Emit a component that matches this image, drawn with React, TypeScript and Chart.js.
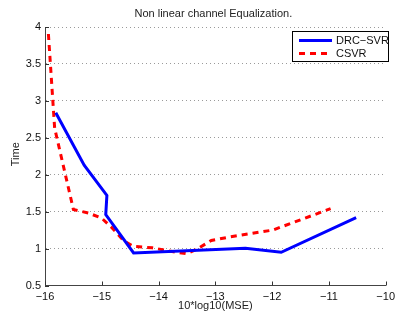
import React, { useEffect, useRef } from "react";
import { Chart, registerables } from "chart.js";

Chart.register(...registerables);

const titleText = "Non linear channel Equalization.";
const xLabel = "10*log10(MSE)";
const yLabel = "Time";
const seriesNames = ["DRC\u2212SVR", "CSVR"];
const seriesColors = ["#0000ff", "#ff0000"];

const drcX = [-15.81, -15.31, -14.91, -14.93, -14.44, -12.47, -11.84, -10.52];
const drcY = [2.84, 2.13, 1.72, 1.46, 0.94, 1.005, 0.95, 1.42];

const csvrX = [-15.94, -15.83, -15.5, -15.23, -15.0, -14.83, -14.62, -14.45, -14.11, -13.76, -13.5, -13.33, -13.07, -12.73, -11.99, -10.97];
const csvrY = [3.905, 2.63, 1.53, 1.48, 1.41, 1.29, 1.11, 1.03, 1.01, 0.96, 0.93, 0.99, 1.11, 1.16, 1.25, 1.54];

const xTicks = [-16, -15, -14, -13, -12, -11, -10];
const yTicks = [0.5, 1, 1.5, 2, 2.5, 3, 3.5, 4];

const FONT = "'Liberation Sans', Arial, Helvetica, sans-serif";

const decorPlugin = {
  id: "decor",
  afterDraw(chart: any) {
    const ctx = chart.ctx;
    const area = chart.chartArea;
    const xs = chart.scales.x;
    const ys = chart.scales.y;
    ctx.save();
    // inward tick marks
    ctx.strokeStyle = "#333";
    ctx.lineWidth = 1;
    ctx.beginPath();
    xTicks.forEach((t) => {
      const px = Math.round(xs.getPixelForValue(t)) + 0.5;
      ctx.moveTo(px, area.bottom);
      ctx.lineTo(px, area.bottom - 4);
    });
    yTicks.forEach((t) => {
      const py = Math.round(ys.getPixelForValue(t)) + 0.5;
      ctx.moveTo(area.left, py);
      ctx.lineTo(area.left + 4, py);
    });
    ctx.stroke();

    // title and axis labels
    ctx.fillStyle = "#222";
    ctx.font = `11px ${FONT}`;
    ctx.textAlign = "center";
    ctx.textBaseline = "middle";
    const cx = (area.left + area.right) / 2;
    ctx.fillText(titleText, cx - 2, 14);
    ctx.fillText(xLabel, cx, 306);
    ctx.save();
    ctx.translate(16, (area.top + area.bottom) / 2 - 2);
    ctx.rotate(-Math.PI / 2);
    ctx.fillText(yLabel, 0, 0);
    ctx.restore();

    // legend
    const lx = 292.5, ly = 31.5, lw = 96, lh = 30;
    ctx.fillStyle = "#fff";
    ctx.fillRect(lx, ly, lw, lh);
    ctx.strokeStyle = "#000";
    ctx.lineWidth = 1;
    ctx.strokeRect(lx, ly, lw, lh);
    const rows = [40.5, 53.5];
    seriesNames.forEach((name, i) => {
      ctx.save();
      ctx.strokeStyle = seriesColors[i];
      ctx.lineWidth = 3;
      ctx.setLineDash(i === 1 ? [6, 5] : []);
      ctx.beginPath();
      ctx.moveTo(299, rows[i]);
      ctx.lineTo(332, rows[i]);
      ctx.stroke();
      ctx.restore();
      ctx.fillStyle = "#111";
      ctx.textAlign = "left";
      ctx.textBaseline = "middle";
      ctx.font = `11px ${FONT}`;
      ctx.fillText(name, 336, rows[i]);
    });
    ctx.restore();
  },
};

export default function App() {
  const ref = useRef<HTMLCanvasElement>(null);
  useEffect(() => {
    if (!ref.current) return;
    const chart = new Chart(ref.current, {
      type: "line",
      data: {
        datasets: [
          {
            label: seriesNames[0],
            data: drcX.map((x, i) => ({ x, y: drcY[i] })),
            borderColor: seriesColors[0],
            borderWidth: 3,
            pointRadius: 0,
            tension: 0,
            fill: false,
          },
          {
            label: seriesNames[1],
            data: csvrX.map((x, i) => ({ x, y: csvrY[i] })),
            borderColor: seriesColors[1],
            borderWidth: 3,
            borderDash: [6, 5],
            pointRadius: 0,
            tension: 0,
            fill: false,
          },
        ],
      },
      options: {
        animation: false,
        responsive: false,
        maintainAspectRatio: false,
        layout: { padding: { top: 27, right: 6, left: 0, bottom: 0 } },
        plugins: {
          legend: { display: false },
          title: { display: false },
          tooltip: { enabled: false },
        },
        scales: {
          x: {
            type: "linear",
            min: -16,
            max: -10,
            afterBuildTicks: (s: any) => {
              s.ticks = xTicks.map((v) => ({ value: v }));
            },
            afterFit: (s: any) => {
              s.height = 27.5;
            },
            grid: { display: false, drawTicks: false },
            border: { display: true, color: "#444", width: 1 },
            ticks: {
              padding: 5,
              color: "#111",
              font: { family: FONT, size: 11 },
              callback: (v: any) => (v < 0 ? "\u2212" + Math.abs(v) : String(v)),
              maxRotation: 0,
              autoSkip: false,
            },
          },
          y: {
            type: "linear",
            min: 0.5,
            max: 4,
            afterBuildTicks: (s: any) => {
              s.ticks = yTicks.map((v) => ({ value: v }));
            },
            afterFit: (s: any) => {
              s.width = 45;
            },
            grid: { display: true, drawTicks: false, color: "#9a9a9a", lineWidth: 1 },
            border: { display: true, color: "#444", width: 1, dash: [1, 3] },
            ticks: {
              padding: 4,
              color: "#111",
              font: { family: FONT, size: 11 },
              callback: (v: any) => String(v),
              autoSkip: false,
            },
          },
        },
      } as any,
      plugins: [decorPlugin],
    });
    return () => chart.destroy();
  }, []);
  return (
    <div style={{ position: "absolute", left: 0, top: 0, width: 400, height: 313, background: "#fff" }}>
      <canvas ref={ref} width={400} height={313} />
    </div>
  );
}
